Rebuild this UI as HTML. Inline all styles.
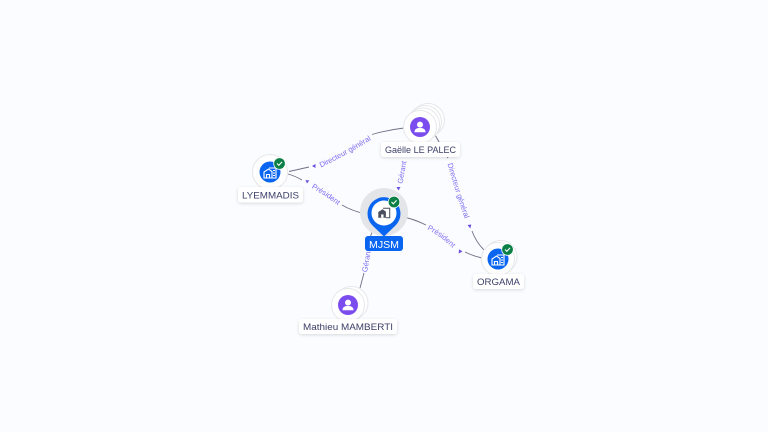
<!DOCTYPE html>
<html>
<head>
<meta charset="utf-8">
<style>
html,body{margin:0;padding:0;background:#fbfcff;}
svg{display:block;font-family:"Liberation Sans",sans-serif;}
.edge{fill:none;stroke:#6f7085;stroke-width:.9;}
.el{font-size:7.5px;fill:#7a6df0;}
.nl{font-size:9.5px;fill:#3c3f68;}
.ring{fill:#fff;stroke:#e6e7ea;stroke-width:1;}
.arrow{fill:#6c4fe0;}
</style>
</head>
<body>
<svg width="768" height="432" viewBox="0 0 768 432" xmlns="http://www.w3.org/2000/svg">
<defs>
<filter id="s" x="-20%" y="-40%" width="140%" height="200%"><feDropShadow dx="0" dy="1" stdDeviation="1.5" flood-color="#000" flood-opacity=".14"/></filter>
<g id="bld"><path d="M-6 5V-1L-1.500-4 2-1.500V5Z M-3.500 5V1.500H-.5V5" fill="none" stroke="#fff" stroke-width="1.100"/><path d="M-1-5H6V5H2" fill="none" stroke="#fff" stroke-width="1.100"/><path d="M3-2.500H5M3 0H5M3 2.500H5" stroke="#fff" stroke-width=".9"/></g>
<g id="bdg"><circle r="5.800" fill="#0a7f46" stroke="#fff" stroke-width=".8"/><path d="M-2.500 0L-.7 1.800 2.600-1.600" fill="none" stroke="#fff" stroke-width="1.100"/></g>
<g id="usr"><circle r="10" fill="#7c4dee"/><circle cy="-2.400" r="3" fill="#fff"/><path d="M-5.500 5.200C-5.500 1.800-3 1-.1 1S5.500 1.800 5.500 5.200Z" fill="#fff"/></g>
</defs>

<rect width="768" height="432" fill="#fbfcff"/>

<path class="edge" d="M404 128Q387 130 372 134.500"/>
<path class="edge" d="M309 167L289 171.500"/>
<path class="edge" d="M288 174Q295 176 302 180"/>
<path class="edge" d="M342 205Q352 211 366 214"/>
<path class="edge" d="M400 216Q414 219 426 225"/>
<path class="edge" d="M465 252Q473 256 482 258"/>
<path class="edge" d="M434 133L448 158"/>
<path class="edge" d="M472 231Q476 242 484 250"/>
<path class="edge" d="M360 288L364 273"/>
<path class="edge" d="M374 226L370 238"/>
<path class="edge" d="M406 142L404 157"/>

<path class="arrow" d="M312 166l3.500-2v4z"/>
<path class="arrow" d="M305.500 180l3.800.5-2.300 3z"/>
<path class="arrow" d="M396.500 187h4l-2 3.500z"/>
<path class="arrow" d="M467.500 225l3.800-.5-1 4z"/>
<path class="arrow" d="M462.500 251.500l-3.800 2 .3-4.300z"/>

<path id="p1" d="M321 167.500Q347 155 374 138" fill="none"/>
<text class="el"><textPath href="#p1">Directeur général</textPath></text>
<path id="p2" d="M311.500 188Q326.500 196 342.500 209" fill="none"/>
<text class="el"><textPath href="#p2">Président</textPath></text>
<path id="p3" d="M427 229.500Q443 237 457 253" fill="none"/>
<text class="el"><textPath href="#p3">Président</textPath></text>
<path id="p4" d="M447.500 164Q455.500 192 466.500 224" fill="none"/>
<text class="el"><textPath href="#p4">Directeur général</textPath></text>
<text class="el" transform="translate(402.500 184) rotate(-80)">Gérant</text>
<text class="el" transform="translate(367 272.500) rotate(-80)">Gérant</text>

<!-- Gaelle -->
<circle class="ring" cx="428" cy="120" r="16.500"/>
<circle class="ring" cx="425" cy="122" r="16.500"/>
<circle class="ring" cx="423" cy="124.500" r="16.500"/>
<circle class="ring" cx="420" cy="127" r="16.500"/>
<use href="#usr" x="420" y="127"/>
<rect x="381" y="142" width="79" height="15" rx="3" fill="#fff" filter="url(#s)"/>
<text class="nl" x="385" y="153" textLength="71" lengthAdjust="spacingAndGlyphs">Gaëlle LE PALEC</text>

<!-- LYEMMADIS -->
<circle class="ring" cx="270" cy="172" r="17.500"/>
<circle cx="270" cy="172" r="10.500" fill="#0a66f0"/>
<use href="#bld" x="270" y="173"/>
<use href="#bdg" x="279.500" y="163.500"/>
<rect x="238" y="187" width="65" height="15.500" rx="3" fill="#fff" filter="url(#s)"/>
<text class="nl" x="242" y="198.500" textLength="57" lengthAdjust="spacingAndGlyphs">LYEMMADIS</text>

<!-- MJSM -->
<circle cx="384" cy="212" r="24" fill="#e3e5e8"/>
<path d="M384 236.500L372.500 225.500A16.500 16.500 0 1 1 395.500 225.500Z" fill="#0a66f0"/>
<circle cx="384" cy="213" r="12.500" fill="#fff"/>
<g transform="translate(384 213) scale(.95)"><path d="M-6 5V-1L-1.500-4 2-1.500V5Z" fill="#4a4e5e"/><path d="M-1-5H6V5H2" fill="none" stroke="#4a4e5e" stroke-width="1.100"/><path d="M-3 5V1.500H-.5V5Z" fill="#fff"/></g>
<use href="#bdg" x="394" y="202"/>
<rect x="365" y="236" width="38" height="15" rx="3" fill="#0a66f0"/>
<text class="nl" x="369" y="248" textLength="30" lengthAdjust="spacingAndGlyphs" style="fill:#fff;font-size:10px">MJSM</text>

<!-- Mathieu -->
<circle class="ring" cx="351.500" cy="303" r="16.500"/>
<circle class="ring" cx="348" cy="305" r="16.500"/>
<use href="#usr" x="348" y="305"/>
<rect x="299" y="319" width="98" height="15" rx="3" fill="#fff" filter="url(#s)"/>
<text class="nl" x="303" y="330" textLength="90" lengthAdjust="spacingAndGlyphs">Mathieu MAMBERTI</text>

<!-- ORGAMA -->
<circle class="ring" cx="500.500" cy="257" r="16.500"/>
<circle class="ring" cx="498" cy="259" r="16.500"/>
<circle cx="498" cy="259" r="10.500" fill="#0a66f0"/>
<use href="#bld" x="498" y="260"/>
<use href="#bdg" x="507.500" y="249.500"/>
<rect x="473" y="274" width="51" height="15" rx="3" fill="#fff" filter="url(#s)"/>
<text class="nl" x="477" y="285" textLength="43" lengthAdjust="spacingAndGlyphs">ORGAMA</text>
</svg>
</body>
</html>
